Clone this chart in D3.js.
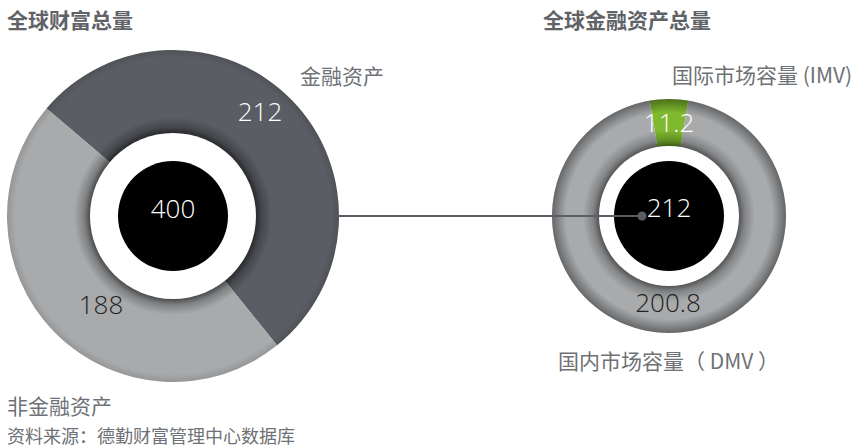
<!DOCTYPE html>
<html>
<head>
<meta charset="utf-8">
<script src="https://cdn.jsdelivr.net/npm/d3@7"></script>
<style>
  html, body { margin: 0; padding: 0; background: #fff; }
  svg text { font-family: "Noto Sans CJK SC", "Noto Sans", sans-serif; }
  .num { font-family: "Open Sans", "Noto Sans", sans-serif; font-weight: 300; }
</style>
</head>
<body>
<div id="chart"></div>
<script>
'use strict';

// data
const wealthTitle = '全球财富总量';
const wealthCats = ['金融资产', '非金融资产'];
const wealthValues = [212, 188];
const wealthTotal = 400;

const finTitle = '全球金融资产总量';
const finCats = ['国际市场容量 (IMV)', '国内市场容量（ DMV ）'];
const finValues = [11.2, 200.8];
const finTotal = 212;

const sourceNote = '资料来源：德勤财富管理中心数据库';

const W = 860, H = 448;
const TITLE = '#5f6266';
const TEXT = '#6e7175';

const svg = d3.select('#chart').append('svg')
    .attr('width', W)
    .attr('height', H);

const defs = svg.append('defs');

// shading over a ring: shadow near inner edge, darker rim at outer edge
function ringShade(id, rIn, rOut, innerDark, outerDark, outerBand){
    const g = defs.append('radialGradient')
        .attr('id', id)
        .attr('gradientUnits', 'userSpaceOnUse')
        .attr('cx', 0).attr('cy', 0).attr('r', rOut);
    const f = r => (r / rOut);
    g.append('stop').attr('offset', f(rIn)).attr('stop-color', '#000').attr('stop-opacity', innerDark);
    g.append('stop').attr('offset', f(rIn + 6)).attr('stop-color', '#000').attr('stop-opacity', innerDark * 0.45);
    g.append('stop').attr('offset', f(rIn + 16)).attr('stop-color', '#000').attr('stop-opacity', 0);
    g.append('stop').attr('offset', f(rOut - outerBand)).attr('stop-color', '#000').attr('stop-opacity', 0);
    g.append('stop').attr('offset', 1).attr('stop-color', '#000').attr('stop-opacity', outerDark);
}

function donut(opts){
    const g = svg.append('g')
        .attr('transform', 'translate(' + opts.cx + ',' + opts.cy + ')');

    const pie = d3.pie()
        .sort(null)
        .value(d => d)
        .startAngle(opts.start)
        .endAngle(opts.start + 2 * Math.PI);

    const arc = d3.arc()
        .innerRadius(opts.rIn - 2)
        .outerRadius(opts.rOut);

    g.selectAll('path.slice')
        .data(pie(opts.values))
        .join('path')
        .attr('class', 'slice')
        .attr('d', arc)
        .attr('fill', (d, i) => opts.colors[i]);

    ringShade(opts.id, opts.rIn, opts.rOut, opts.innerDark, opts.outerDark, opts.outerBand);
    g.append('path')
        .attr('d', d3.arc().innerRadius(opts.rIn - 2).outerRadius(opts.rOut)({startAngle: 0, endAngle: 2 * Math.PI}))
        .attr('fill', 'url(#' + opts.id + ')');

    g.append('circle').attr('r', opts.rIn).attr('fill', '#fff');
    g.append('circle').attr('r', opts.rCore).attr('fill', '#000');

    return g;
}

// left: world wealth
donut({
    id: 'shadeL', cx: 173, cy: 216, rOut: 166, rIn: 83, rCore: 55,
    values: wealthValues,
    start: -49.6 * Math.PI / 180,
    colors: ['#5a5d63', '#a8aaac'],
    innerDark: 0.55, outerDark: 0.12, outerBand: 8
});

// right: world financial assets
donut({
    id: 'shadeR', cx: 669, cy: 216, rOut: 117, rIn: 70, rCore: 55,
    values: finValues,
    start: -Math.PI * finValues[0] / d3.sum(finValues),
    colors: ['#7fba2e', '#a8aaac'],
    innerDark: 0.5, outerDark: 0.4, outerBand: 14
});

// connector from left donut to right centre
svg.append('line')
    .attr('x1', 173 + 164).attr('y1', 216)
    .attr('x2', 642).attr('y2', 216)
    .attr('stroke', '#5a5d63')
    .attr('stroke-width', 2.2);
svg.append('circle')
    .attr('cx', 642).attr('cy', 216).attr('r', 4.5)
    .attr('fill', '#5a5d63');

// numbers
function num(x, y, t, fill){
    svg.append('text')
        .attr('class', 'num')
        .attr('x', x).attr('y', y)
        .attr('text-anchor', 'middle')
        .attr('dominant-baseline', 'central')
        .attr('font-size', 26)
        .attr('fill', fill)
        .text(t);
}
num(260, 111, wealthValues[0], '#fff');
num(101, 304, wealthValues[1], '#222');
num(173, 208, wealthTotal, '#fff');
num(669, 122, finValues[0], '#fff');
num(669, 207, finTotal, '#fff');
num(668, 302, finValues[1], '#222');

// titles and labels
function label(x, y, t, size, weight, fill){
    svg.append('text')
        .attr('x', x).attr('y', y)
        .attr('dominant-baseline', 'central')
        .attr('font-size', size)
        .attr('font-weight', weight || 400)
        .attr('fill', fill || TEXT)
        .text(t);
}
label(7, 19, wealthTitle, 21, 700, TITLE);
label(543, 19, finTitle, 21, 700, TITLE);
label(300, 75, wealthCats[0], 21);
label(7, 405, wealthCats[1], 21);
label(672, 74, finCats[0], 21);
label(558, 360, finCats[1], 21);
label(7, 435, sourceNote, 18);
</script>
</body>
</html>
